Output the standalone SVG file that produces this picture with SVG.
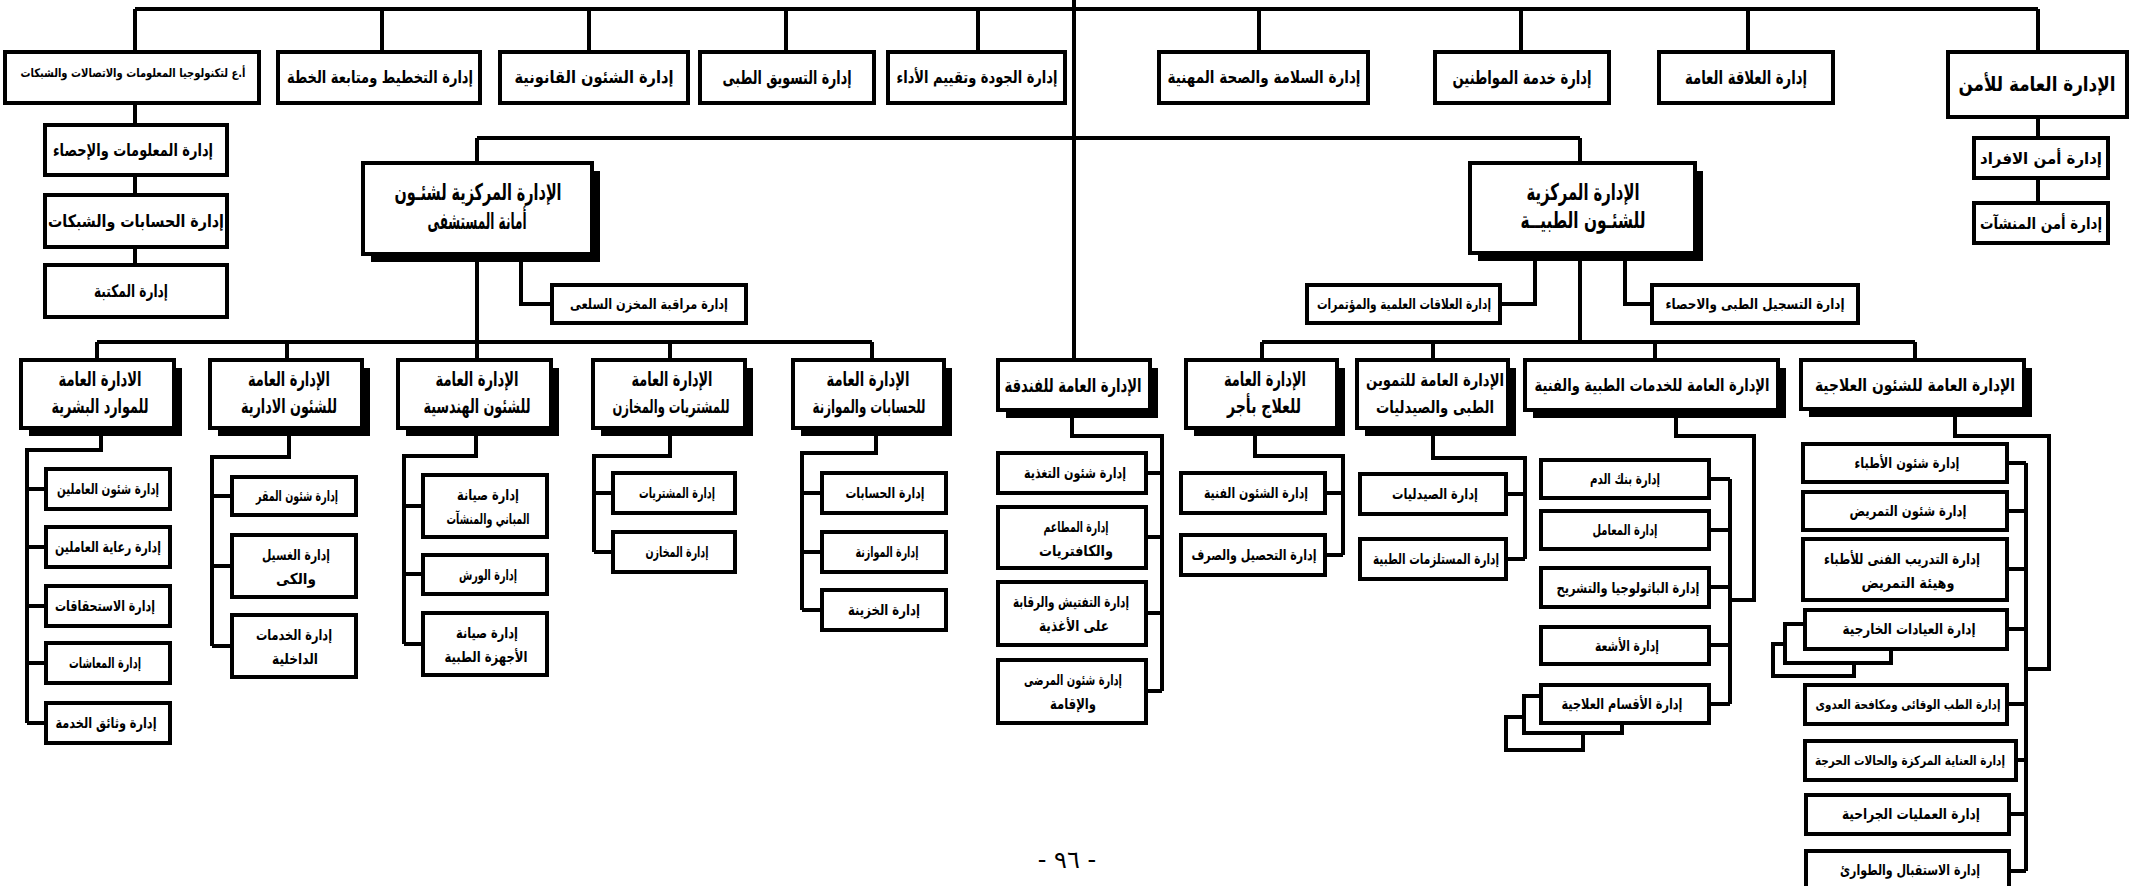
<svg xmlns="http://www.w3.org/2000/svg" width="2138" height="886" viewBox="0 0 2138 886">
<style>
.b{fill:#fff;stroke:#000;stroke-width:4}
.sh{fill:#000}
.c{fill:none;stroke:#000;stroke-width:4}
text{font-family:"DejaVu Sans",sans-serif;font-weight:bold;text-anchor:middle;direction:rtl;fill:#000}
.f12{font-size:12px}.f13{font-size:13px}.f14{font-size:14px}.f15{font-size:15px}.f16{font-size:16px}.f17{font-size:17px}.f19{font-size:19px}.f20{font-size:20px}.f22{font-size:22px}.f23{font-size:23px}
</style>
<rect width="2138" height="886" fill="#fff"/>
<g id="connectors">
<path class="c" d="M135 9H2038M1074 0V360M135 9V52M382 9V52M589 9V52M786 9V52M978 9V52M1259 9V52M1521 9V52M1748 9V52M2038 9V52"/>
<path class="c" d="M135 103V125M135 175V195M135 247V265M2038 117V138M2038 178V203"/>
<path class="c" d="M477 138H1580M477 138V163M1580 138V163M477 254V360M521 254V304H552M97 342H872M97 342V360M287 342V360M670 342V360M872 342V360"/>
<path class="c" d="M1580 253V342M1535 253V304H1500M1625 253V304H1652M1262 342H1915M1262 342V360M1433 342V360M1655 342V360M1915 342V360"/>
<path class="c" d="M101 436V450H27V723M27 489H46M27 547H46M27 606H46M27 663H46M27 723H46"/>
<path class="c" d="M289 436V457H212V646M212 496H232M212 566H232M212 646H232"/>
<path class="c" d="M476 436V456H404V644M404 506H423M404 574H423M404 644H423"/>
<path class="c" d="M670 436V456H594V552M594 493H613M594 552H613"/>
<path class="c" d="M876 436V453H802V610M802 493H822M802 552H822M802 610H822"/>
<path class="c" d="M1072 418V436H1162V691M1162 473H1146M1162 537H1146M1162 613H1146M1162 691H1146"/>
<path class="c" d="M1255 436V456H1343V555M1343 493H1325M1343 555H1325"/>
<path class="c" d="M1433 436V458H1525V559M1525 494H1506M1525 559H1506"/>
<path class="c" d="M1676 418V436H1754V600H1730M1730 479V704M1709 479H1730M1709 530H1730M1709 587H1730M1709 645H1730M1709 704H1730"/>
<path class="c" d="M1955 417V436H2049V669H2026M2026 463V871M2007 463H2026M2007 511H2026M2007 569H2026M2007 629H2026M2007 704H2026M2016 760H2026M2009 814H2026M2009 871H2026"/>
</g>
<g id="n-it"><rect class="b" x="5" y="52" width="254" height="51"/><text class="f12" x="133" y="77" textLength="225" lengthAdjust="spacingAndGlyphs">أ.ع لتكنولوجيا المعلومات والاتصالات والشبكات</text></g>
<g id="n-plan"><rect class="b" x="278" y="52" width="202" height="51"/><text class="f17" x="380" y="83" textLength="186" lengthAdjust="spacingAndGlyphs">إدارة التخطيط ومتابعة الخطة</text></g>
<g id="n-legal"><rect class="b" x="500" y="52" width="188" height="51"/><text class="f17" x="594" y="83" textLength="159" lengthAdjust="spacingAndGlyphs">إدارة الشئون القانونية</text></g>
<g id="n-market"><rect class="b" x="700" y="52" width="174" height="51"/><text class="f19" x="787" y="84" textLength="129" lengthAdjust="spacingAndGlyphs">إدارة التسويق الطبى</text></g>
<g id="n-quality"><rect class="b" x="888" y="52" width="177" height="51"/><text class="f17" x="977" y="83" textLength="161" lengthAdjust="spacingAndGlyphs">إدارة الجودة وتقييم الأداء</text></g>
<g id="n-safety"><rect class="b" x="1159" y="52" width="209" height="51"/><text class="f17" x="1264" y="83" textLength="193" lengthAdjust="spacingAndGlyphs">إدارة السلامة والصحة المهنية</text></g>
<g id="n-citizens"><rect class="b" x="1435" y="52" width="174" height="51"/><text class="f19" x="1522" y="84" textLength="139" lengthAdjust="spacingAndGlyphs">إدارة خدمة المواطنين</text></g>
<g id="n-pr"><rect class="b" x="1659" y="52" width="174" height="51"/><text class="f19" x="1746" y="84" textLength="122" lengthAdjust="spacingAndGlyphs">إدارة العلاقة العامة</text></g>
<g id="n-security"><rect class="b" x="1948" y="52" width="179" height="65"/><text class="f20" x="2037" y="91" textLength="157" lengthAdjust="spacingAndGlyphs">الإدارة العامة للأمن</text></g>
<g id="n-sec1"><rect class="b" x="1974" y="138" width="134" height="40"/><text class="f16" x="2041" y="164" textLength="122" lengthAdjust="spacingAndGlyphs">إدارة أمن الافراد</text></g>
<g id="n-sec2"><rect class="b" x="1974" y="203" width="134" height="40"/><text class="f16" x="2041" y="229" textLength="122" lengthAdjust="spacingAndGlyphs">إدارة أمن المنشآت</text></g>
<g id="n-it1"><rect class="b" x="45" y="125" width="182" height="50"/><text class="f17" x="133" y="156" textLength="160" lengthAdjust="spacingAndGlyphs">إدارة المعلومات والإحصاء</text></g>
<g id="n-it2"><rect class="b" x="45" y="195" width="182" height="52"/><text class="f17" x="136" y="227" textLength="176" lengthAdjust="spacingAndGlyphs">إدارة الحسابات والشبكات</text></g>
<g id="n-it3"><rect class="b" x="45" y="265" width="182" height="52"/><text class="f17" x="131" y="297" textLength="74" lengthAdjust="spacingAndGlyphs">إدارة المكتبة</text></g>
<g id="n-amanah"><rect class="sh" x="371" y="171" width="229" height="91"/><rect class="b" x="363" y="163" width="229" height="91"/><text class="f23" x="478" y="200" textLength="167" lengthAdjust="spacingAndGlyphs">الإدارة المركزية لشئـون</text><text class="f23" x="477" y="229" textLength="99" lengthAdjust="spacingAndGlyphs">أمانة المستشفى</text></g>
<g id="n-stock"><rect class="b" x="552" y="285" width="194" height="38"/><text class="f14" x="649" y="309" textLength="158" lengthAdjust="spacingAndGlyphs">إدارة مراقبة المخزن السلعى</text></g>
<g id="n-medical"><rect class="sh" x="1478" y="171" width="225" height="90"/><rect class="b" x="1470" y="163" width="225" height="90"/><text class="f23" x="1583" y="200" textLength="113" lengthAdjust="spacingAndGlyphs">الإدارة المركزية</text><text class="f23" x="1583" y="228" textLength="125" lengthAdjust="spacingAndGlyphs">للشئـون الطبيــة</text></g>
<g id="n-sci"><rect class="b" x="1307" y="285" width="193" height="38"/><text class="f14" x="1404" y="309" textLength="174" lengthAdjust="spacingAndGlyphs">إدارة العلاقات العلمية والمؤتمرات</text></g>
<g id="n-reg"><rect class="b" x="1652" y="285" width="206" height="38"/><text class="f14" x="1755" y="309" textLength="179" lengthAdjust="spacingAndGlyphs">إدارة التسجيل الطبى والاحصاء</text></g>
<g id="n-hr"><rect class="sh" x="29" y="368" width="153" height="68"/><rect class="b" x="21" y="360" width="153" height="68"/><text class="f20" x="100" y="386" textLength="83" lengthAdjust="spacingAndGlyphs">الادارة العامة</text><text class="f20" x="100" y="413" textLength="97" lengthAdjust="spacingAndGlyphs">للموارد البشرية</text></g>
<g id="n-admin"><rect class="sh" x="218" y="368" width="152" height="68"/><rect class="b" x="210" y="360" width="152" height="68"/><text class="f20" x="289" y="386" textLength="82" lengthAdjust="spacingAndGlyphs">الإدارة العامة</text><text class="f20" x="289" y="413" textLength="96" lengthAdjust="spacingAndGlyphs">للشئون الادارية</text></g>
<g id="n-eng"><rect class="sh" x="406" y="368" width="153" height="68"/><rect class="b" x="398" y="360" width="153" height="68"/><text class="f20" x="477" y="386" textLength="83" lengthAdjust="spacingAndGlyphs">الإدارة العامة</text><text class="f20" x="477" y="413" textLength="107" lengthAdjust="spacingAndGlyphs">للشئون الهندسية</text></g>
<g id="n-purch"><rect class="sh" x="601" y="368" width="152" height="68"/><rect class="b" x="593" y="360" width="152" height="68"/><text class="f20" x="672" y="386" textLength="81" lengthAdjust="spacingAndGlyphs">الإدارة العامة</text><text class="f19" x="671" y="413" textLength="117" lengthAdjust="spacingAndGlyphs">للمشتريات والمخازن</text></g>
<g id="n-acc"><rect class="sh" x="801" y="368" width="151" height="68"/><rect class="b" x="793" y="360" width="151" height="68"/><text class="f20" x="868" y="386" textLength="83" lengthAdjust="spacingAndGlyphs">الإدارة العامة</text><text class="f19" x="869" y="413" textLength="113" lengthAdjust="spacingAndGlyphs">للحسابات والموازنة</text></g>
<g id="n-hotel"><rect class="sh" x="1006" y="368" width="152" height="50"/><rect class="b" x="998" y="360" width="152" height="50"/><text class="f19" x="1073" y="392" textLength="137" lengthAdjust="spacingAndGlyphs">الإدارة العامة للفندقة</text></g>
<g id="n-paid"><rect class="sh" x="1194" y="368" width="151" height="68"/><rect class="b" x="1186" y="360" width="151" height="68"/><text class="f20" x="1265" y="386" textLength="82" lengthAdjust="spacingAndGlyphs">الإدارة العامة</text><text class="f20" x="1264" y="413" textLength="74" lengthAdjust="spacingAndGlyphs">للعلاج بأجر</text></g>
<g id="n-supply"><rect class="sh" x="1365" y="368" width="151" height="68"/><rect class="b" x="1357" y="360" width="151" height="68"/><text class="f17" x="1435" y="386" textLength="138" lengthAdjust="spacingAndGlyphs">الإدارة العامة للتموين</text><text class="f17" x="1435" y="413" textLength="118" lengthAdjust="spacingAndGlyphs">الطبى والصيدليات</text></g>
<g id="n-medsvc"><rect class="sh" x="1533" y="368" width="253" height="50"/><rect class="b" x="1525" y="360" width="253" height="50"/><text class="f17" x="1652" y="391" textLength="235" lengthAdjust="spacingAndGlyphs">الإدارة العامة للخدمات الطبية والفنية</text></g>
<g id="n-therapy"><rect class="sh" x="1809" y="368" width="223" height="49"/><rect class="b" x="1801" y="360" width="223" height="49"/><text class="f17" x="1915" y="391" textLength="200" lengthAdjust="spacingAndGlyphs">الإدارة العامة للشئون العلاجية</text></g>
<g id="n-hr1"><rect class="b" x="46" y="469" width="124" height="40"/><text class="f15" x="108" y="494" textLength="102" lengthAdjust="spacingAndGlyphs">إدارة شئون العاملين</text></g>
<g id="n-hr2"><rect class="b" x="46" y="527" width="124" height="40"/><text class="f15" x="108" y="552" textLength="106" lengthAdjust="spacingAndGlyphs">إدارة رعاية العاملين</text></g>
<g id="n-hr3"><rect class="b" x="46" y="586" width="124" height="40"/><text class="f15" x="105" y="611" textLength="100" lengthAdjust="spacingAndGlyphs">إدارة الاستحقاقات</text></g>
<g id="n-hr4"><rect class="b" x="46" y="643" width="124" height="40"/><text class="f15" x="105" y="668" textLength="72" lengthAdjust="spacingAndGlyphs">إدارة المعاشات</text></g>
<g id="n-hr5"><rect class="b" x="46" y="703" width="124" height="40"/><text class="f15" x="106" y="728" textLength="101" lengthAdjust="spacingAndGlyphs">إدارة وثائق الخدمة</text></g>
<g id="n-ad1"><rect class="b" x="232" y="477" width="124" height="38"/><text class="f15" x="297" y="501" textLength="82" lengthAdjust="spacingAndGlyphs">إدارة شئون المقر</text></g>
<g id="n-ad2"><rect class="b" x="232" y="535" width="124" height="62"/><text class="f15" x="296" y="560" textLength="68" lengthAdjust="spacingAndGlyphs">إدارة الغسيل</text><text class="f15" x="296" y="584" textLength="40" lengthAdjust="spacingAndGlyphs">والكى</text></g>
<g id="n-ad3"><rect class="b" x="232" y="615" width="124" height="62"/><text class="f15" x="294" y="640" textLength="76" lengthAdjust="spacingAndGlyphs">إدارة الخدمات</text><text class="f15" x="295" y="664" textLength="46" lengthAdjust="spacingAndGlyphs">الداخلية</text></g>
<g id="n-en1"><rect class="b" x="423" y="475" width="124" height="62"/><text class="f15" x="488" y="500" textLength="62" lengthAdjust="spacingAndGlyphs">إدارة صيانة</text><text class="f15" x="488" y="524" textLength="83" lengthAdjust="spacingAndGlyphs">المباني والمنشآت</text></g>
<g id="n-en2"><rect class="b" x="423" y="555" width="124" height="39"/><text class="f15" x="488" y="580" textLength="58" lengthAdjust="spacingAndGlyphs">إدارة الورش</text></g>
<g id="n-en3"><rect class="b" x="423" y="613" width="124" height="62"/><text class="f15" x="487" y="638" textLength="62" lengthAdjust="spacingAndGlyphs">إدارة صيانة</text><text class="f15" x="486" y="662" textLength="83" lengthAdjust="spacingAndGlyphs">الأجهزة الطبية</text></g>
<g id="n-pu1"><rect class="b" x="613" y="473" width="122" height="40"/><text class="f15" x="677" y="498" textLength="76" lengthAdjust="spacingAndGlyphs">إدارة المشتريات</text></g>
<g id="n-pu2"><rect class="b" x="613" y="532" width="122" height="40"/><text class="f15" x="677" y="557" textLength="63" lengthAdjust="spacingAndGlyphs">إدارة المخازن</text></g>
<g id="n-ac1"><rect class="b" x="822" y="473" width="124" height="40"/><text class="f15" x="885" y="498" textLength="79" lengthAdjust="spacingAndGlyphs">إدارة الحسابات</text></g>
<g id="n-ac2"><rect class="b" x="822" y="532" width="124" height="40"/><text class="f15" x="887" y="557" textLength="63" lengthAdjust="spacingAndGlyphs">إدارة الموازنة</text></g>
<g id="n-ac3"><rect class="b" x="822" y="590" width="124" height="40"/><text class="f15" x="884" y="615" textLength="72" lengthAdjust="spacingAndGlyphs">إدارة الخزينة</text></g>
<g id="n-ho1"><rect class="b" x="998" y="453" width="148" height="40"/><text class="f15" x="1075" y="478" textLength="102" lengthAdjust="spacingAndGlyphs">إدارة شئون التغذية</text></g>
<g id="n-ho2"><rect class="b" x="998" y="507" width="148" height="61"/><text class="f15" x="1076" y="532" textLength="65" lengthAdjust="spacingAndGlyphs">إدارة المطاعم</text><text class="f15" x="1076" y="556" textLength="74" lengthAdjust="spacingAndGlyphs">والكافتريات</text></g>
<g id="n-ho3"><rect class="b" x="998" y="582" width="148" height="63"/><text class="f15" x="1071" y="607" textLength="116" lengthAdjust="spacingAndGlyphs">إدارة التفتيش والرقابة</text><text class="f15" x="1074" y="631" textLength="70" lengthAdjust="spacingAndGlyphs">على الأغذية</text></g>
<g id="n-ho4"><rect class="b" x="998" y="660" width="148" height="63"/><text class="f15" x="1073" y="685" textLength="98" lengthAdjust="spacingAndGlyphs">إدارة شئون المرضى</text><text class="f15" x="1073" y="709" textLength="46" lengthAdjust="spacingAndGlyphs">والإقامة</text></g>
<g id="n-pa1"><rect class="b" x="1181" y="473" width="144" height="40"/><text class="f15" x="1256" y="498" textLength="104" lengthAdjust="spacingAndGlyphs">إدارة الشئون الفنية</text></g>
<g id="n-pa2"><rect class="b" x="1181" y="535" width="144" height="40"/><text class="f15" x="1254" y="560" textLength="125" lengthAdjust="spacingAndGlyphs">إدارة التحصيل والصرف</text></g>
<g id="n-su1"><rect class="b" x="1360" y="474" width="146" height="40"/><text class="f15" x="1435" y="499" textLength="86" lengthAdjust="spacingAndGlyphs">إدارة الصيدليات</text></g>
<g id="n-su2"><rect class="b" x="1360" y="539" width="146" height="40"/><text class="f15" x="1436" y="564" textLength="126" lengthAdjust="spacingAndGlyphs">إدارة المستلزمات الطبية</text></g>
<g id="n-ms1"><rect class="b" x="1541" y="460" width="168" height="38"/><text class="f15" x="1625" y="484" textLength="70" lengthAdjust="spacingAndGlyphs">إدارة بنك الدم</text></g>
<g id="n-ms2"><rect class="b" x="1541" y="511" width="168" height="38"/><text class="f15" x="1625" y="535" textLength="65" lengthAdjust="spacingAndGlyphs">إدارة المعامل</text></g>
<g id="n-ms3"><rect class="b" x="1541" y="568" width="168" height="39"/><text class="f15" x="1628" y="593" textLength="143" lengthAdjust="spacingAndGlyphs">إدارة الباثولوجيا والتشريح</text></g>
<g id="n-ms4"><rect class="b" x="1541" y="627" width="168" height="37"/><text class="f15" x="1627" y="651" textLength="64" lengthAdjust="spacingAndGlyphs">إدارة الأشعة</text></g>
<g id="n-ms5"><rect class="b" x="1506" y="717" width="77" height="33"/><rect class="b" x="1524" y="696" width="98" height="37"/><rect class="b" x="1541" y="685" width="168" height="38"/><text class="f15" x="1622" y="709" textLength="121" lengthAdjust="spacingAndGlyphs">إدارة الأقسام العلاجية</text></g>
<g id="n-th1"><rect class="b" x="1803" y="444" width="204" height="38"/><text class="f15" x="1907" y="468" textLength="105" lengthAdjust="spacingAndGlyphs">إدارة شئون الأطباء</text></g>
<g id="n-th2"><rect class="b" x="1803" y="492" width="204" height="38"/><text class="f15" x="1908" y="516" textLength="117" lengthAdjust="spacingAndGlyphs">إدارة شئون التمريض</text></g>
<g id="n-th3"><rect class="b" x="1803" y="539" width="204" height="61"/><text class="f15" x="1902" y="564" textLength="156" lengthAdjust="spacingAndGlyphs">إدارة التدريب الفنى للأطباء</text><text class="f15" x="1908" y="588" textLength="93" lengthAdjust="spacingAndGlyphs">وهيئة التمريض</text></g>
<g id="n-th4"><rect class="b" x="1773" y="644" width="81" height="32"/><rect class="b" x="1785" y="624" width="106" height="39"/><rect class="b" x="1805" y="610" width="202" height="39"/><text class="f15" x="1909" y="634" textLength="133" lengthAdjust="spacingAndGlyphs">إدارة العيادات الخارجية</text></g>
<g id="n-th5"><rect class="b" x="1805" y="685" width="202" height="39"/><text class="f13" x="1908" y="709" textLength="185" lengthAdjust="spacingAndGlyphs">إدارة الطب الوقائى ومكافحة العدوى</text></g>
<g id="n-th6"><rect class="b" x="1805" y="741" width="211" height="39"/><text class="f13" x="1910" y="765" textLength="190" lengthAdjust="spacingAndGlyphs">إدارة العناية المركزة والحالات الحرجة</text></g>
<g id="n-th7"><rect class="b" x="1806" y="795" width="203" height="39"/><text class="f15" x="1911" y="819" textLength="138" lengthAdjust="spacingAndGlyphs">إدارة العمليات الجراحية</text></g>
<g id="n-th8"><rect class="b" x="1806" y="851" width="203" height="39"/><text class="f15" x="1910" y="875" textLength="140" lengthAdjust="spacingAndGlyphs">إدارة الاستقبال والطوارئ</text></g>
<text x="1067" y="868" style="font-weight:normal;font-size:24px">- ٩٦ -</text>
</svg>
